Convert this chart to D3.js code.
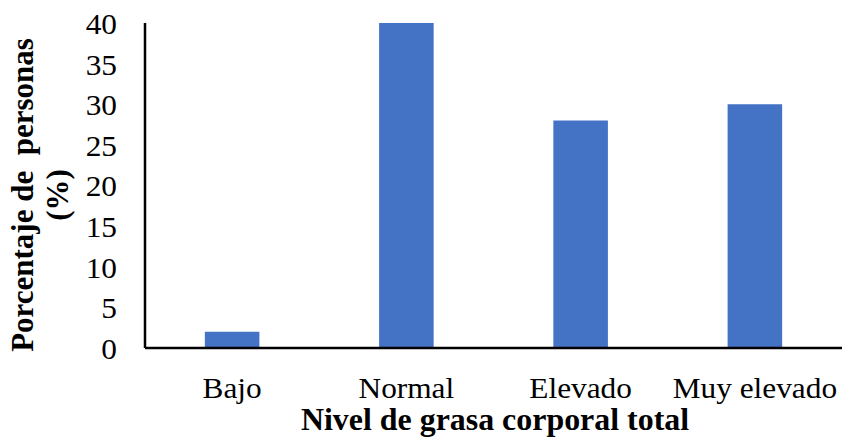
<!DOCTYPE html>
<html>
<head>
<meta charset="utf-8">
<script src="https://cdn.jsdelivr.net/npm/d3@7"></script>
<style>
  html, body { margin: 0; padding: 0; background: #fff; }
  svg { display: block; }
  text { font-family: "Liberation Serif", "Times New Roman", serif; fill: #000; }
</style>
</head>
<body>
<svg id="chart" width="842" height="447"></svg>
<script>
// Body fat level categories and share of people in each (%)
const categories = ["Bajo", "Normal", "Elevado", "Muy elevado"];
const values = [2, 40, 28, 30];
const yTicks = [0, 5, 10, 15, 20, 25, 30, 35, 40];
const xTitle = "Nivel de grasa corporal total";
const yTitleLines = ["Porcentaje de\u00a0 personas", "(%)"];

const svg = d3.select("#chart");
const plotLeft = 145, plotRight = 842, plotTop = 23, plotBottom = 348;
const labelWiden = 1.08; // slightly wide lettering of the tick labels

const x = d3.scaleBand()
  .domain(categories)
  .range([plotLeft, plotRight])
  .paddingInner(0.687)
  .paddingOuter(0.687 / 2);

const y = d3.scaleLinear()
  .domain([0, 40])
  .range([plotBottom, plotTop]);

// Bars
svg.append("g")
  .selectAll("rect")
  .data(values)
  .join("rect")
  .attr("x", (d, i) => x(categories[i]))
  .attr("y", d => y(d))
  .attr("width", x.bandwidth())
  .attr("height", d => y(0) - y(d))
  .attr("fill", "#4472C4");

// Y axis: line without tick marks, labels to the left
const yAxis = svg.append("g")
  .attr("transform", `translate(${plotLeft},0)`)
  .call(d3.axisLeft(y).tickValues(yTicks).tickSize(0).tickFormat(d3.format("d")));
yAxis.select(".domain").attr("stroke", "#000").attr("stroke-width", 2.5).attr("d", `M0,${plotTop}V${plotBottom}`);
yAxis.selectAll("text")
  .attr("font-family", "Liberation Serif, Times New Roman, serif")
  .attr("font-size", 29)
  .attr("x", -28 / labelWiden)
  .attr("dy", "0.36em")
  .attr("transform", `scale(${labelWiden},1)`)
  .attr("fill", "#000");

// X axis: baseline with category labels
const xAxis = svg.append("g")
  .attr("transform", `translate(0,${plotBottom})`)
  .call(d3.axisBottom(x).tickSize(0).tickPadding(29));
xAxis.select(".domain").attr("stroke", "#000").attr("stroke-width", 2.5).attr("d", `M${plotLeft},0H${plotRight}`);
xAxis.selectAll("text")
  .attr("font-family", "Liberation Serif, Times New Roman, serif")
  .attr("font-size", 29)
  .attr("transform", `scale(${labelWiden},1)`)
  .attr("fill", "#000");

// Axis titles
svg.append("text")
  .attr("transform", "translate(495,430) scale(1.03,1)")
  .attr("text-anchor", "middle")
  .attr("font-size", 31)
  .attr("font-weight", "bold")
  .text(xTitle);

const yTitle = svg.append("text")
  .attr("transform", "translate(33,195) rotate(-90)")
  .attr("text-anchor", "middle")
  .attr("font-size", 31)
  .attr("font-weight", "bold");
yTitle.selectAll("tspan")
  .data(yTitleLines)
  .join("tspan")
  .attr("x", 0)
  .attr("dy", (d, i) => i === 0 ? 0 : 35)
  .text(d => d);
</script>
</body>
</html>
